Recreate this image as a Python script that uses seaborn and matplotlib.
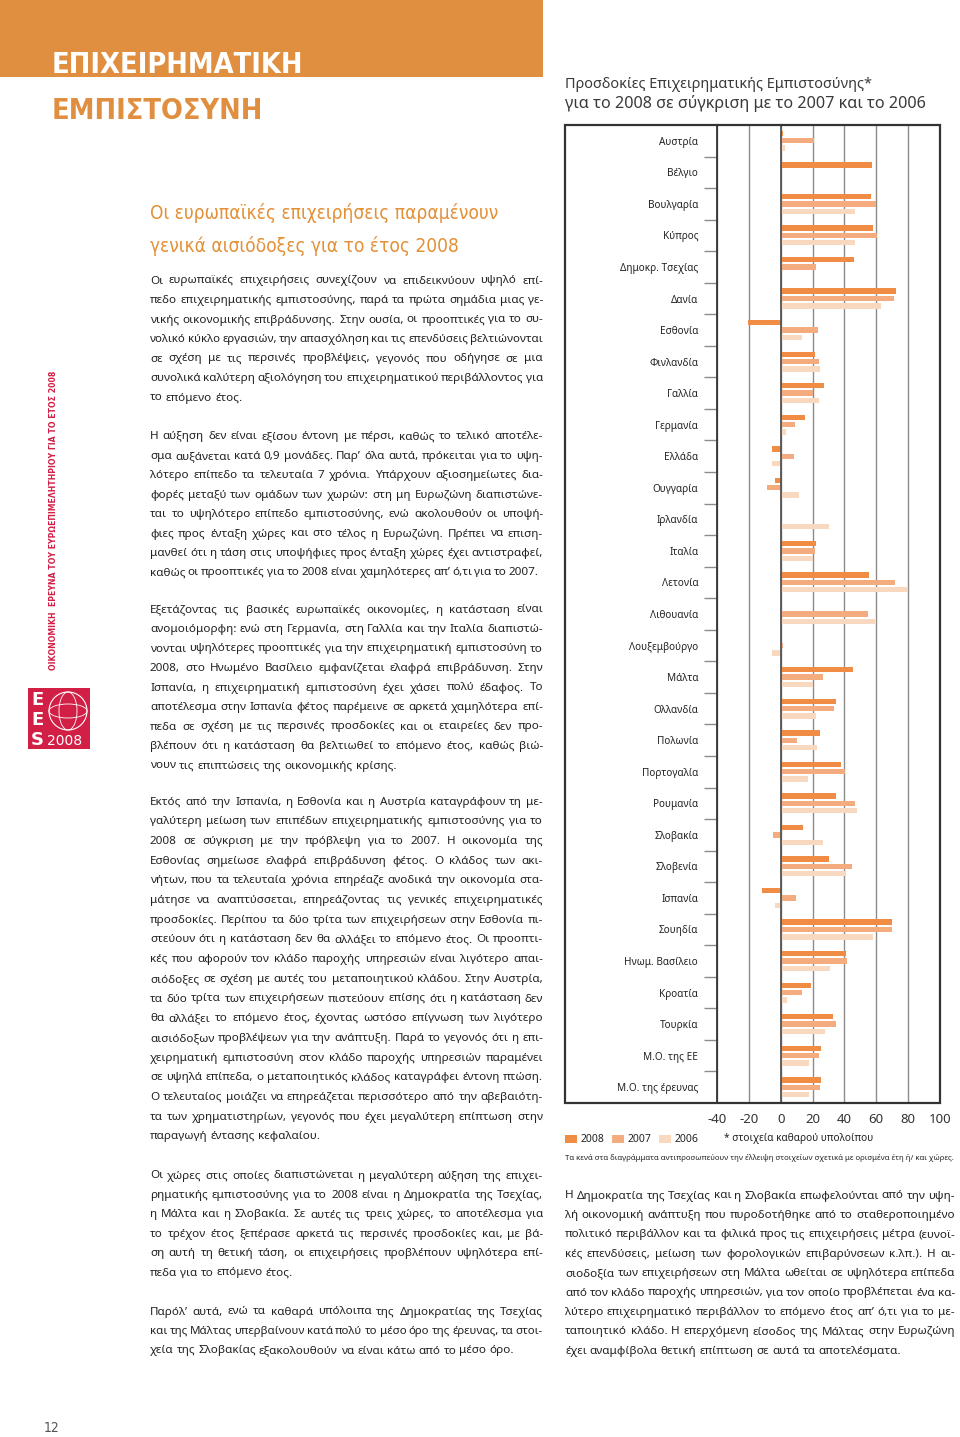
import numpy as np
import pandas as pd
import matplotlib
matplotlib.use("Agg")
import matplotlib.pyplot as plt
import seaborn as sns
from matplotlib.patches import Rectangle, Ellipse
from matplotlib import font_manager

# ---------------- data ----------------
countries = ["Αυστρία", "Βέλγιο", "Βουλγαρία", "Κύπρος", "Δημοκρ. Τσεχίας", "Δανία",
             "Εσθονία", "Φινλανδία", "Γαλλία", "Γερμανία", "Ελλάδα", "Ουγγαρία",
             "Ιρλανδία", "Ιταλία", "Λετονία", "Λιθουανία", "Λουξεμβούργο", "Μάλτα",
             "Ολλανδία", "Πολωνία", "Πορτογαλία", "Ρουμανία", "Σλοβακία", "Σλοβενία",
             "Ισπανία", "Σουηδία", "Ηνωμ. Βασίλειο", "Κροατία", "Τουρκία",
             "Μ.Ο. της ΕΕ", "Μ.Ο. της έρευνας"]
years = ["2008", "2007", "2006"]
nan = np.nan
v2008 = [1.4, 57.5, 56.7, 57.9, 45.7, 72.4, -20.5, 21.5, 26.9, 15.1, -5.2, -3.7,
         nan, 22.3, 55.4, nan, nan, 45.1, 34.5, 24.6, 37.6, 34.9, 13.9, 30.6,
         -11.8, 69.9, 40.7, 18.8, 33.1, 25.0, 25.2]
v2007 = [21.0, nan, 59.8, 60.6, 22.1, 71.1, 23.4, 23.8, 20.3, 9.1, 8.3, -8.9,
         nan, 21.7, 71.8, 55.0, 1.5, 26.3, 33.3, 10.1, 40.5, 46.5, -4.8, 44.9,
         9.9, 69.7, 41.8, 13.2, 34.9, 23.8, 24.4]
v2006 = [3.0, nan, 46.5, 46.5, nan, 63.1, 13.2, 24.6, 24.2, 3.3, -5.6, 11.6,
         30.6, 20.3, 80.0, 58.9, -5.5, 20.1, 22.3, 23.0, 17.0, 48.0, 26.3, 40.7,
         -3.9, 58.1, 31.0, 3.9, 28.1, 17.6, 18.0]
x_ticks = [-40, -20, 0, 20, 40, 60, 80, 100]
year_colors = ["#F08C44", "#F4AB7E", "#F9D8C0"]

# ---------------- text content ----------------
header_1 = "ΕΠΙΧΕΙΡΗΜΑΤΙΚΗ"
header_2 = "ΕΜΠΙΣΤΟΣΥΝΗ"
chart_title_1 = "Προσδοκίες Επιχειρηματικής Εμπιστοσύνης*"
chart_title_2 = "για το 2008 σε σύγκριση με το 2007 και το 2006"
subtitle = ["Οι ευρωπαϊκές επιχειρήσεις παραμένουν", "γενικά αισιόδοξες για το έτος 2008"]
side_text = "ΟΙΚΟΝΟΜΙΚΗ  ΕΡΕΥΝΑ ΤΟΥ ΕΥΡΩΕΠΙΜΕΛΗΤΗΡΙΟΥ ΓΙΑ ΤΟ ΕΤΟΣ 2008"
legend_note = "* στοιχεία καθαρού υπολοίπου"
footnote = "Τα κενά στα διαγράμματα αντιπροσωπεύουν την έλλειψη στοιχείων σχετικά με ορισμένα έτη ή/ και χώρες."

p1 = ["Οι ευρωπαϊκές επιχειρήσεις συνεχίζουν να επιδεικνύουν υψηλό επί-",
      "πεδο επιχειρηματικής εμπιστοσύνης, παρά τα πρώτα σημάδια μιας γε-",
      "νικής οικονομικής επιβράδυνσης. Στην ουσία, οι προοπτικές για το συ-",
      "νολικό κύκλο εργασιών, την απασχόληση και τις επενδύσεις βελτιώνονται",
      "σε σχέση με τις περσινές προβλέψεις, γεγονός που οδήγησε σε μια",
      "συνολικά καλύτερη αξιολόγηση του επιχειρηματικού περιβάλλοντος για",
      "το επόμενο έτος."]
p2 = ["Η αύξηση δεν είναι εξίσου έντονη με πέρσι, καθώς το τελικό αποτέλε-",
      "σμα αυξάνεται κατά 0,9 μονάδες. Παρ’ όλα αυτά, πρόκειται για το υψη-",
      "λότερο επίπεδο τα τελευταία 7 χρόνια. Υπάρχουν αξιοσημείωτες δια-",
      "φορές μεταξύ των ομάδων των χωρών: στη μη Ευρωζώνη διαπιστώνε-",
      "ται το υψηλότερο επίπεδο εμπιστοσύνης, ενώ ακολουθούν οι υποψή-",
      "φιες προς ένταξη χώρες και στο τέλος η Ευρωζώνη. Πρέπει να επιση-",
      "μανθεί ότι η τάση στις υποψήφιες προς ένταξη χώρες έχει αντιστραφεί,",
      "καθώς οι προοπτικές για το 2008 είναι χαμηλότερες απ’ ό,τι για το 2007."]
p3 = ["Εξετάζοντας τις βασικές ευρωπαϊκές οικονομίες, η κατάσταση είναι",
      "ανομοιόμορφη: ενώ στη Γερμανία, στη Γαλλία και την Ιταλία διαπιστώ-",
      "νονται υψηλότερες προοπτικές για την επιχειρηματική εμπιστοσύνη το",
      "2008, στο Ηνωμένο Βασίλειο εμφανίζεται ελαφρά επιβράδυνση. Στην",
      "Ισπανία, η επιχειρηματική εμπιστοσύνη έχει χάσει πολύ έδαφος. Το",
      "αποτέλεσμα στην Ισπανία φέτος παρέμεινε σε αρκετά χαμηλότερα επί-",
      "πεδα σε σχέση με τις περσινές προσδοκίες και οι εταιρείες δεν προ-",
      "βλέπουν ότι η κατάσταση θα βελτιωθεί το επόμενο έτος, καθώς βιώ-",
      "νουν τις επιπτώσεις της οικονομικής κρίσης."]
p4 = ["Εκτός από την Ισπανία, η Εσθονία και η Αυστρία καταγράφουν τη με-",
      "γαλύτερη μείωση των επιπέδων επιχειρηματικής εμπιστοσύνης για το",
      "2008 σε σύγκριση με την πρόβλεψη για το 2007. Η οικονομία της",
      "Εσθονίας σημείωσε ελαφρά επιβράδυνση φέτος. Ο κλάδος των ακι-",
      "νήτων, που τα τελευταία χρόνια επηρέαζε ανοδικά την οικονομία στα-",
      "μάτησε να αναπτύσσεται, επηρεάζοντας τις γενικές επιχειρηματικές",
      "προσδοκίες. Περίπου τα δύο τρίτα των επιχειρήσεων στην Εσθονία πι-",
      "στεύουν ότι η κατάσταση δεν θα αλλάξει το επόμενο έτος. Οι προοπτι-",
      "κές που αφορούν τον κλάδο παροχής υπηρεσιών είναι λιγότερο απαι-",
      "σιόδοξες σε σχέση με αυτές του μεταποιητικού κλάδου. Στην Αυστρία,",
      "τα δύο τρίτα των επιχειρήσεων πιστεύουν επίσης ότι η κατάσταση δεν",
      "θα αλλάξει το επόμενο έτος, έχοντας ωστόσο επίγνωση των λιγότερο",
      "αισιόδοξων προβλέψεων για την ανάπτυξη. Παρά το γεγονός ότι η επι-",
      "χειρηματική εμπιστοσύνη στον κλάδο παροχής υπηρεσιών παραμένει",
      "σε υψηλά επίπεδα, ο μεταποιητικός κλάδος καταγράφει έντονη πτώση.",
      "Ο τελευταίος μοιάζει να επηρεάζεται περισσότερο από την αβεβαιότη-",
      "τα των χρηματιστηρίων, γεγονός που έχει μεγαλύτερη επίπτωση στην",
      "παραγωγή έντασης κεφαλαίου."]
p5 = ["Οι χώρες στις οποίες διαπιστώνεται η μεγαλύτερη αύξηση της επιχει-",
      "ρηματικής εμπιστοσύνης για το 2008 είναι η Δημοκρατία της Τσεχίας,",
      "η Μάλτα και η Σλοβακία. Σε αυτές τις τρεις χώρες, το αποτέλεσμα για",
      "το τρέχον έτος ξεπέρασε αρκετά τις περσινές προσδοκίες και, με βά-",
      "ση αυτή τη θετική τάση, οι επιχειρήσεις προβλέπουν υψηλότερα επί-",
      "πεδα για το επόμενο έτος."]
p6 = ["Παρόλ’ αυτά, ενώ τα καθαρά υπόλοιπα της Δημοκρατίας της Τσεχίας",
      "και της Μάλτας υπερβαίνουν κατά πολύ το μέσο όρο της έρευνας, τα στοι-",
      "χεία της Σλοβακίας εξακολουθούν να είναι κάτω από το μέσο όρο."]
p7 = ["Η Δημοκρατία της Τσεχίας και η Σλοβακία επωφελούνται από την υψη-",
      "λή οικονομική ανάπτυξη που πυροδοτήθηκε από το σταθεροποιημένο",
      "πολιτικό περιβάλλον και τα φιλικά προς τις επιχειρήσεις μέτρα (ευνοϊ-",
      "κές επενδύσεις, μείωση των φορολογικών επιβαρύνσεων κ.λπ.). Η αι-",
      "σιοδοξία των επιχειρήσεων στη Μάλτα ωθείται σε υψηλότερα επίπεδα",
      "από τον κλάδο παροχής υπηρεσιών, για τον οποίο προβλέπεται ένα κα-",
      "λύτερο επιχειρηματικό περιβάλλον το επόμενο έτος απ’ ό,τι για το με-",
      "ταποιητικό κλάδο. Η επερχόμενη είσοδος της Μάλτας στην Ευρωζώνη",
      "έχει αναμφίβολα θετική επίπτωση σε αυτά τα αποτελέσματα."]

# ---------------- setup ----------------
W, H = 960, 1437
sns.set_theme(style="white")
flist = font_manager.fontManager.ttflist
names = {f.name for f in flist}
BODY = "Noto Sans" if "Noto Sans" in names else "DejaVu Sans"
plt.rcParams["font.family"] = [BODY, "DejaVu Sans"]
if "Liberation Sans Narrow" in names:
    COND = dict(family="Liberation Sans Narrow")
elif any(f.name == "DejaVu Sans" and str(f.stretch) in ("condensed", "semi-condensed") for f in flist):
    COND = dict(family="DejaVu Sans", fontstretch="condensed")
else:
    COND = dict(family="DejaVu Sans")

fig = plt.figure(figsize=(W / 100, H / 100), dpi=100)
fig.patch.set_facecolor("white")
renderer = fig.canvas.get_renderer()


def fx(x):
    return x / W


def fy(y):
    return 1 - y / H


def fit(x, y, s, width=None, height=None, size=10, **kw):
    t = fig.text(fx(x), fy(y), s, fontsize=size, **kw)
    bb = t.get_window_extent(renderer)
    if width is not None:
        t.set_fontsize(size * width / bb.width)
    elif height is not None:
        t.set_fontsize(size * height / bb.height)
    return t


def para(lines, x0, x1, y0, dy, size=8.4, color="#222222", family=BODY):
    min_space = 2.2
    for i, line in enumerate(lines):
        yc = y0 + i * dy
        words = line.split(" ")
        last = i == len(lines) - 1
        ts = [fig.text(0, 0, w, fontsize=size, family=family, color=color,
                       ha="left", va="center") for w in words]
        ws = [t.get_window_extent(renderer).width for t in ts]
        avail = x1 - x0
        n = max(len(words) - 1, 1)
        if last or len(words) == 1:
            space = size * 1.389 * 0.26
            if sum(ws) + space * n > avail:
                space = min_space
        else:
            space = (avail - sum(ws)) / n
        if space <= min_space and sum(ws) + min_space * n > avail:
            scale = (avail - min_space * n) / sum(ws)
            for t in ts:
                t.set_fontsize(size * scale)
            ws = [w * scale for w in ws]
            space = min_space
        x = x0
        for t, w in zip(ts, ws):
            t.set_position((fx(x), fy(yc)))
            x += w + space


# ---------------- header ----------------
fig.add_artist(Rectangle((0, fy(77)), fx(543), 77 / H, transform=fig.transFigure,
                         color="#E08F40", lw=0, zorder=0))
t1 = fit(52, 73, header_1, width=252, size=40, color="white", ha="left",
         va="baseline", fontweight="bold", **COND)
fig.text(fx(52), fy(119), header_2, fontsize=t1.get_fontsize(), color="#E08F40",
         ha="left", va="baseline", fontweight="bold", **COND)

# subtitle
s1 = fit(150, 213, subtitle[0], width=350, size=16, color="#E39036", ha="left",
         va="center", **COND)
fig.text(fx(150), fy(246), subtitle[1], fontsize=s1.get_fontsize(), color="#E39036",
         ha="left", va="center", **COND)

# side vertical text
fit(54, 520, side_text, height=296, size=8, color="#D21F45", rotation=90,
    ha="center", va="center", fontweight="bold", **COND)

# logo
fig.add_artist(Rectangle((fx(28), fy(749)), fx(62), 61 / H, transform=fig.transFigure,
                         color="#D21F45", lw=0))
fig.add_artist(Ellipse((fx(68), fy(711)), fx(38), 38 / H, transform=fig.transFigure,
                       fill=False, ec="white", lw=0.8))
fig.add_artist(Ellipse((fx(68), fy(711)), fx(18), 38 / H, transform=fig.transFigure,
                       fill=False, ec="white", lw=0.6))
fig.add_artist(Ellipse((fx(68), fy(711)), fx(38), 14 / H, transform=fig.transFigure,
                       fill=False, ec="white", lw=0.6))
for txt, yy in [("E", 700), ("E", 720), ("S", 740)]:
    fig.text(fx(31), fy(yy), txt, fontsize=13, fontweight="bold", color="white",
             ha="left", va="center", family="DejaVu Sans")
fig.text(fx(47), fy(741), "2008", fontsize=10, color="white", ha="left", va="center",
         family="DejaVu Sans")

# page number
fig.text(fx(52), fy(1428), "12", fontsize=10, color="#555555", ha="center",
         va="center", **COND)

# body text
para(p1, 150, 543, 281, 19.5)
para(p2, 150, 543, 437, 19.4)
para(p3, 150, 543, 610, 19.5)
para(p4, 150, 543, 802, 19.7)
para(p5, 150, 543, 1176, 19.4)
para(p6, 150, 543, 1312, 19.5)
para(p7, 565, 955, 1196, 19.4)

# chart title
fit(565, 85, chart_title_1, width=307, size=10, color="#3a3a3a", ha="left", va="center")
fit(565, 104, chart_title_2, width=360, size=10, color="#3a3a3a", ha="left", va="center")

# ---------------- chart ----------------
df = pd.DataFrame({
    "country": countries * 3,
    "year": [y for y in years for _ in countries],
    "value": v2008 + v2007 + v2006,
}).dropna()

ax = fig.add_axes([fx(717), fy(1103), fx(940) - fx(717), (1103 - 125) / H])
sns.barplot(data=df, y="country", x="value", hue="year", order=countries,
            hue_order=years, palette=year_colors, orient="h", width=0.7, gap=0.27,
            saturation=1, errorbar=None, legend=False, linewidth=0, ax=ax, zorder=3)
ax.set_xlim(-40, 100)
ax.set_ylim(30.5, -0.5)
ax.set_xticks(x_ticks)
ax.set_xticklabels([str(v) for v in x_ticks], fontsize=9.5, color="#333333")
ax.grid(axis="x", color="#8c8c8c", lw=1.0, zorder=0)
ax.grid(axis="y", visible=False)
ax.set_axisbelow(True)
ax.axvline(0, color="#555555", lw=1.3, zorder=4)
ax.set_yticks(range(len(countries)))
ax.set_yticklabels(countries, fontsize=7.2, color="#222222")
ax.set_yticks(np.arange(0.5, len(countries) - 1, 1), minor=True)
ax.tick_params(axis="y", which="major", length=0, pad=13.5)
ax.tick_params(axis="y", which="minor", length=9.5, width=1.0, color="#8c8c8c",
               direction="out", left=True)
ax.tick_params(axis="x", length=0, pad=7)
ax.set_xlabel("")
ax.set_ylabel("")
for sp in ax.spines.values():
    sp.set_visible(True)
    sp.set_color("#333333")
    sp.set_linewidth(1.3)
ax.set_facecolor("none")

fig.add_artist(Rectangle((fx(565), fy(1103)), fx(940) - fx(565), (1103 - 125) / H,
                         transform=fig.transFigure, fill=False, ec="#333333", lw=1.6,
                         zorder=5))

# legend
lx = [565, 612, 659]
tx = [581, 628, 675]
for c, y, a, b in zip(year_colors, years, lx, tx):
    fig.add_artist(Rectangle((fx(a), fy(1143)), fx(12), 8 / H, transform=fig.transFigure,
                             color=c, lw=0))
    fig.text(fx(b), fy(1139), y, fontsize=7.5, color="#222222", ha="left", va="center")
fig.text(fx(724), fy(1139), legend_note, fontsize=7.3, color="#222222", ha="left",
         va="center")
fit(565, 1158, footnote, width=392, size=6, color="#222222", ha="left", va="center")

fig.savefig("out.png", dpi=100, facecolor="white")
